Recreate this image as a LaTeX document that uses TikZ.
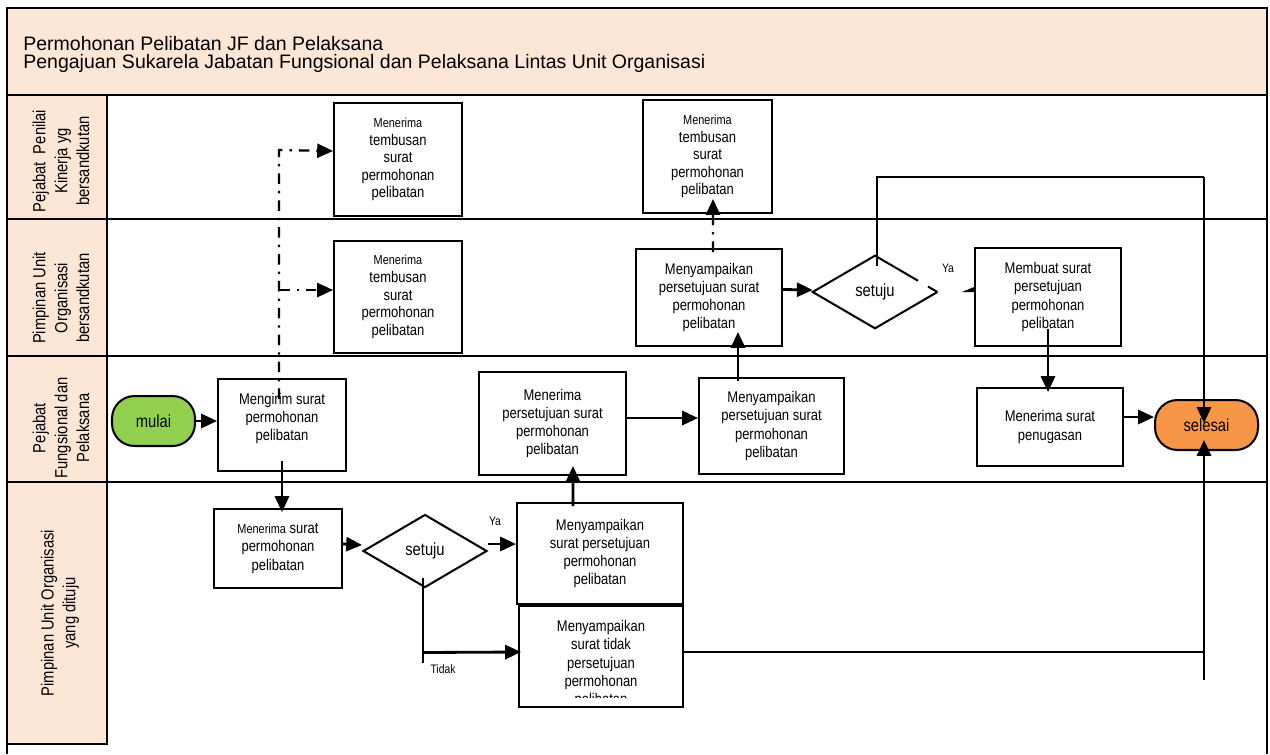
\documentclass[tikz,border=0pt]{standalone}
\usepackage{fontspec}
\setmainfont{Liberation Sans}
\newfontfamily\cf[FakeStretch=0.84]{Liberation Sans}
\usetikzlibrary{arrows.meta,shapes.geometric,calc}
\definecolor{peach}{HTML}{FCE6D6}
\definecolor{mgreen}{HTML}{92D050}
\definecolor{morange}{HTML}{F79646}
\newcommand\smallm{\fontsize{7.4}{10}\selectfont Menerima}
\begin{document}
\begin{tikzpicture}[x=0.02cm,y=-0.02cm,
  box/.style={draw, line width=1.15pt, fill=white, inner sep=0pt, align=center, font=\cf\fontsize{8.8}{10.4}\selectfont},
  txt/.style={inner sep=0pt, align=center, font=\cf\fontsize{8.8}{10.4}\selectfont},
  tbox/.style={draw, line width=1.15pt, fill=white, inner sep=0pt, align=center, font=\cf\fontsize{8.8}{10}\selectfont},
  term/.style={draw, line width=1.15pt, rounded corners=0.45cm, inner sep=0pt, font=\cf\fontsize{10}{11}\selectfont},
  arr/.style={line width=1.6pt, -{Triangle[length=9pt,width=8pt]}},
  dd/.style={line width=1.3pt, dash pattern=on 6pt off 4pt on 1.3pt off 4pt},
  lane/.style={line width=1.15pt},
  lanelbl/.style={rotate=90, align=center, inner sep=0pt, font=\cf\fontsize{10}{12.4}\selectfont},
  small/.style={inner sep=0pt, font=\cf\fontsize{7}{8}\selectfont},
  title/.style={anchor=base west, inner sep=0pt, font=\fontsize{11.1}{13}\selectfont}]
\useasboundingbox (0,0) rectangle (1270,754);
% header
\draw[fill=peach, line width=1.15pt] (7,8) rectangle (1267,95);
\node[title] (h1) at (23,50) {Permohonan Pelibatan JF dan Pelaksana};
\node[title] (h2) at (23,68) {Pengajuan Sukarela Jabatan Fungsional dan Pelaksana Lintas Unit Organisasi};
% frame and lanes
\draw[line width=1.2pt] (7,8) -- (7,754);
\draw[line width=1.5pt] (1267,8) -- (1267,754);
\draw[lane] (107,219) -- (1267,219);
\draw[lane] (107,356) -- (1267,356);
\draw[lane] (107,482) -- (1267,482);
\draw[fill=peach, lane] (7,95) rectangle (107,219);
\draw[fill=peach, lane] (7,219) rectangle (107,356);
\draw[fill=peach, lane] (7,356) rectangle (107,482);
\node[lanelbl] (l1) at (61,161) {Pejabat\ \ Penilai\\Kinerja yg\\bersandkutan};
\node[lanelbl] (l2) at (61,298) {Pimpinan Unit\\Organisasi\\bersandkutan};
\node[lanelbl] (l3) at (61,428) {Pejabat\\Fungsional dan\\Pelaksana};
\draw[fill=peach, lane] (7,482) rectangle (107,744);
\node[lanelbl] (l4) at (60,613) {Pimpinan Unit Organisasi\\yang dituju};
% nodes lane 1
\node[tbox, minimum width=2.56cm, minimum height=2.26cm] (t1) at (398,159.5) {{\smallm}\\tembusan\\surat\\permohonan\\pelibatan};
\node[tbox, minimum width=2.58cm, minimum height=2.26cm] (t3) at (707.5,156.5) {{\smallm}\\tembusan\\surat\\permohonan\\pelibatan};
% lane 2
\node[tbox, minimum width=2.56cm, minimum height=2.24cm] (t2) at (398,297) {{\smallm}\\tembusan\\surat\\permohonan\\pelibatan};
\node[box, minimum width=2.92cm, minimum height=1.94cm] (m1) at (709,297.5) {Menyampaikan\\persetujuan surat\\permohonan\\pelibatan};
\node[diamond, inner sep=0pt, minimum width=2.48cm, minimum height=1.44cm, font=\cf\fontsize{10}{11}\selectfont] (d2) at (875,292) {setuju};
\draw[line width=1.15pt] (d2.east) -- (d2.south) -- (d2.west) -- (d2.north) -- ($(d2.north)!0.69!(d2.east)$);
\draw[line width=1.15pt] ($(d2.north)!0.85!(d2.east)$) -- (d2.east);
\node[box, minimum width=2.92cm, minimum height=1.96cm] (mb) at (1048,297) {Membuat surat\\persetujuan\\permohonan\\pelibatan};
\node[small] (ya2) at (948,268) {Ya};
% lane 3
\node[term, fill=mgreen, minimum width=1.66cm, minimum height=1.0cm] (mulai) at (153.5,421) {mulai};
\node[box, minimum width=2.56cm, minimum height=1.84cm] (mg) at (282,425) {};
\node[box, minimum width=2.94cm, minimum height=2.06cm] (mp) at (552.5,423.5) {Menerima\\persetujuan surat\\permohonan\\pelibatan};
\node[box, minimum width=2.9cm, minimum height=1.92cm] (ms3) at (771.5,426) {Menyampaikan\\persetujuan surat\\permohonan\\pelibatan};
\node[box, minimum width=2.92cm, minimum height=1.56cm] (msp) at (1050,427) {Menerima surat\\penugasan};
\node[term, fill=morange, minimum width=2.06cm, minimum height=1.0cm] (sel) at (1206.5,425) {};
% lane 4
\node[box, minimum width=2.56cm, minimum height=1.58cm] (mr) at (278,548.5) {{\smallm} surat\\permohonan\\pelibatan};
\node[diamond, draw, line width=1.15pt, inner sep=0pt, minimum width=2.48cm, minimum height=1.46cm, font=\cf\fontsize{10}{11}\selectfont] (d1) at (425,551) {setuju};
\node[box, minimum width=3.32cm, minimum height=2.02cm] (yb) at (600,553.5) {Menyampaikan\\surat persetujuan\\permohonan\\pelibatan};
\node[box, minimum width=3.28cm, minimum height=2.02cm] (tb) at (601,656.5) {};
\begin{scope}
\clip (519,606) rectangle (683,697);
\node[txt] (tbt) at (601,664) {Menyampaikan\\surat tidak\\persetujuan\\permohonan\\pelibatan};
\end{scope}
\node[small] (ya1) at (495,521) {Ya};
\node[small] (tdk) at (443,669) {Tidak};
% dash-dot connectors
\coordinate (jb) at (279,290);
\draw[dd, -{Triangle[length=9pt,width=8pt]}] ($(mg.north)+(-3,21)$) -- ($(mg.north)+(-3,-228)$) -- ($(t1.west)+(0,-8.5)$);
\draw[dd, -{Triangle[length=9pt,width=8pt]}] (jb) -- ($(t2.west)+(0,-7)$);
\draw[dd, -{Triangle[length=9pt,width=8pt]}] ($(m1.north)+(4,4)$) -- ($(t3.south)+(5.5,-15)$);
% text of Mengirim box over the dash-dot line
\node[txt] (mgt) at (282,418.5) {Mengirim surat\\permohonan\\pelibatan};
% solid connectors
\draw[arr] (mulai.east) -- (mulai.east -| mg.west);
\draw[arr] ($(mg.south)+(0,-11)$) -- ($(mr.north)+(4,4)$);
\draw[arr] ($(mr.east)+(0,-4.5)$) -- ($(d1.west)+(0,-6)$);
\draw[arr] ($(d1.east)+(0,-7)$) -- ($(yb.west)+(0,-9.5)$);
\draw[line width=1.4pt] ($(d1.south)+(-2,-11)$) -- ($(d1.south)+(-2,74)$);
\draw[arr] ($(d1.south)+(-2,64)$) -- ($(tb.west)+(3,-4.5)$);
\draw[arr] ($(yb.north)+(-27,4)$) -- ($(mp.south)+(20.5,-10)$);
\draw[arr] ($(mp.east)+(0,-5.5)$) -- ($(ms3.west)+(0,-8)$);
\draw[arr] ($(ms3.north)+(-33.5,4)$) -- ($(m1.south)+(29,-15)$);
\draw[arr] ($(m1.east)+(0,-8)$) -- ($(d2.west)+(0,-2)$);
\draw[line width=1pt] ($(d2.north)+(2,10)$) |- ($(sel.center)+(-2.5,-248)$);
\draw[arr] ($(sel.center)+(-2.5,-248)$) -- ($(sel.center)+(-2.5,-2)$);
\fill ($(mb.west)+(-12,-5)$) -- ($(mb.west)+(0,-10)$) -- ($(mb.west)+(0,-5)$) -- cycle;
\draw[arr] ($(mb.south)+(0,-18)$) -- ($(msp.north)+(-2,5)$);
\draw[arr] ($(msp.east)+(0,-10)$) -- ($(sel.west)+(0,-8)$);
\draw[line width=1.4pt] ($(tb.east)+(0,-4.5)$) -- ++(521,0);
\draw[arr] ($(sel.south)+(-2.5,229)$) -- ($(sel.south)+(-2.5,-11)$);
\node[inner sep=0pt, font=\cf\fontsize{10}{11}\selectfont] (selt) at (sel.center) {selesai};
\end{tikzpicture}
\end{document}
